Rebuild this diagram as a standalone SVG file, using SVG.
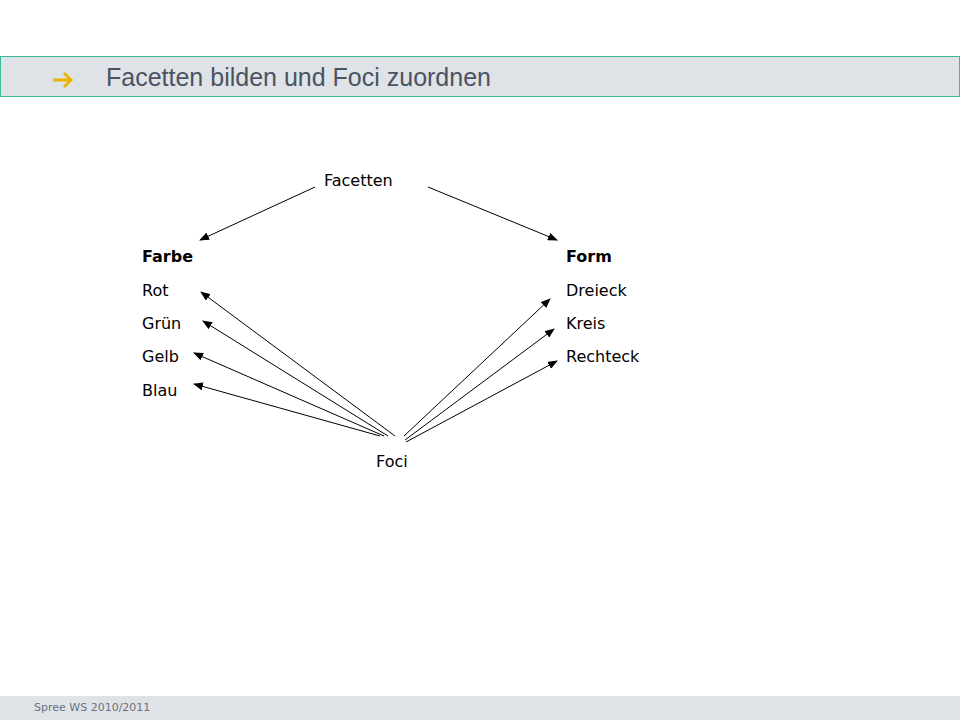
<svg xmlns="http://www.w3.org/2000/svg" width="960" height="720" viewBox="0 0 960 720">
<defs>
<marker id="ah" markerWidth="10" markerHeight="8" refX="9" refY="4" orient="auto" markerUnits="userSpaceOnUse"><path d="M0,0 L10,4 L0,8 z" fill="#000"/></marker>
<style>
.t{font-family:"DejaVu Sans",Verdana,sans-serif;font-size:16px;fill:#000}
.b{font-weight:bold}
.c line{stroke:#000;stroke-width:1;marker-end:url(#ah)}
</style>
</defs>
<rect width="960" height="720" fill="#fff"/>
<rect x="0.5" y="56.5" width="959" height="40" fill="#dfe3e7" stroke="#3cb89a"/>
<path d="M53,80 H70 M64,73 L71,80 L64,87" fill="none" stroke="#e8b400" stroke-width="3"/>
<text x="106" y="86" font-family="Liberation Sans,Arial,sans-serif" font-size="25" fill="#4a5362">Facetten bilden und Foci zuordnen</text>
<rect x="0" y="696" width="960" height="24" fill="#dfe3e7"/>
<text x="34" y="711" font-family="DejaVu Sans,Verdana,sans-serif" font-size="11" fill="#6b7280">Spree WS 2010/2011</text>
<g id="facetten"><text class="t" x="324" y="186">Facetten</text></g>
<g id="farbe"><text class="t b" x="142" y="262">Farbe</text>
<text class="t" x="142" y="296">Rot</text><text class="t" x="142" y="329">Grün</text><text class="t" x="142" y="362">Gelb</text><text class="t" x="142" y="396">Blau</text></g>
<g id="form"><text class="t b" x="566" y="262">Form</text>
<text class="t" x="566" y="296">Dreieck</text><text class="t" x="566" y="329">Kreis</text><text class="t" x="566" y="362">Rechteck</text></g>
<g id="foci"><text class="t" x="376" y="467">Foci</text></g>
<g class="c">
<line x1="315" y1="187" x2="200" y2="240"/>
<line x1="428" y1="187" x2="557" y2="240"/>
<line x1="395" y1="436" x2="201" y2="292"/>
<line x1="388" y1="436" x2="203" y2="321"/>
<line x1="384" y1="436" x2="194" y2="353"/>
<line x1="380" y1="436" x2="194" y2="384"/>
<line x1="404" y1="436" x2="550" y2="299"/>
<line x1="405" y1="440" x2="554" y2="329"/>
<line x1="406" y1="442" x2="557" y2="361"/>
</g>
</svg>
